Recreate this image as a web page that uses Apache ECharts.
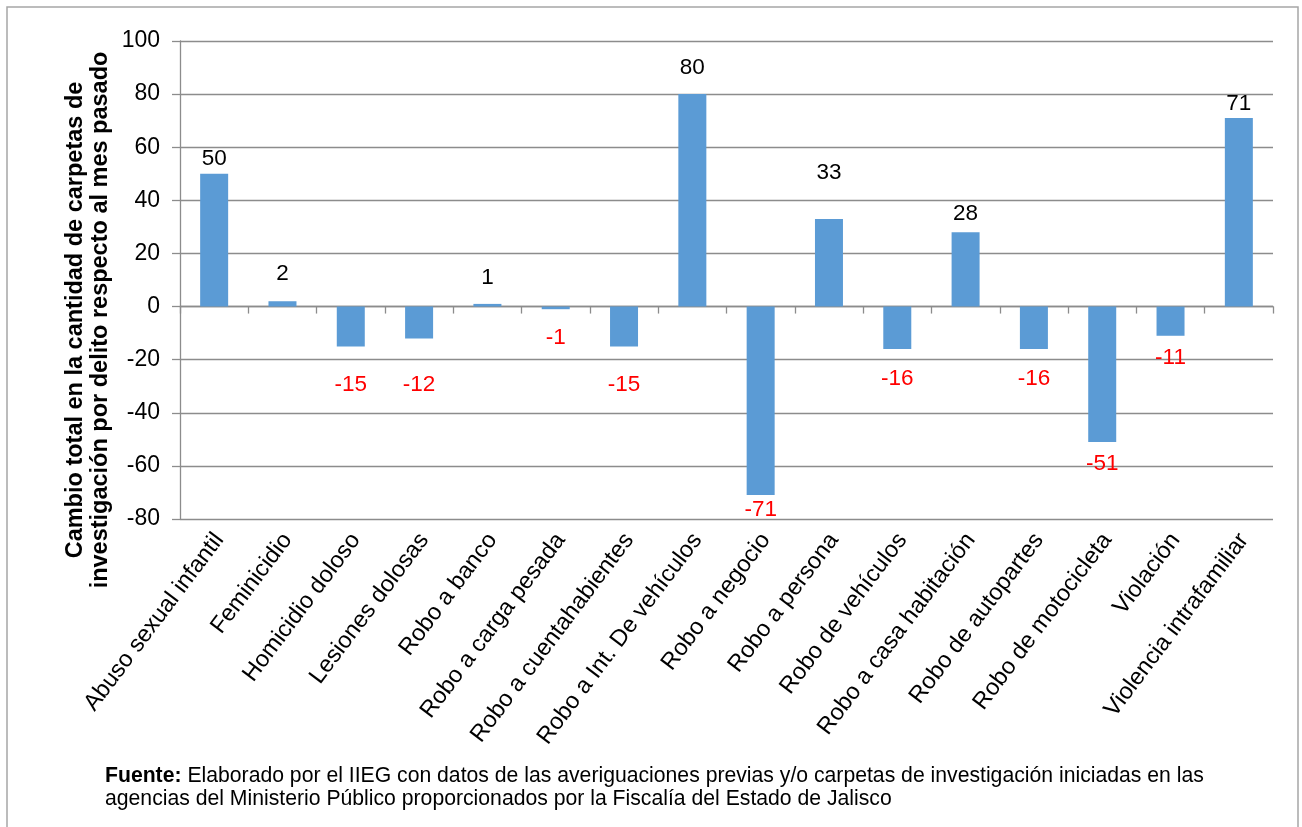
<!DOCTYPE html>
<html>
<head>
<meta charset="utf-8">
<script src="https://cdn.jsdelivr.net/npm/echarts@6/dist/echarts.min.js"></script>
<style>
html,body{margin:0;padding:0;background:#fff;}
#c{width:1302px;height:827px;}
</style>
</head>
<body>
<div id="c"></div>
<script>
const categories = [
  'Abuso sexual infantil', 'Feminicidio', 'Homicidio doloso', 'Lesiones dolosas',
  'Robo a banco', 'Robo a carga pesada', 'Robo a cuentahabientes', 'Robo a Int. De vehículos',
  'Robo a negocio', 'Robo a persona', 'Robo de vehículos', 'Robo a casa habitación',
  'Robo de autopartes', 'Robo de motocicleta', 'Violación', 'Violencia intrafamiliar'
];
const values = [50, 2, -15, -12, 1, -1, -15, 80, -71, 33, -16, 28, -16, -51, -11, 71];
const yMin = -80, yMax = 100, yStep = 20;
const yTitle = 'Cambio total en la cantidad de carpetas de\ninvestigación por delito respecto al mes pasado';
const sourceBold = 'Fuente:';
const sourceText1 = ' Elaborado por el IIEG con datos de las averiguaciones previas y/o carpetas de investigación iniciadas en las';
const sourceText2 = 'agencias del Ministerio Público proporcionados por la Fiscalía del Estado de Jalisco';

// label nudges (px) to mimic hand-placed labels of the original
const labelNudge = [0, -13, 24, 32, -12, 14, 24, -12, 0, -32, 15, -4, 15, 7, 8, 0];

const FONT = 'Liberation Sans, Arial, sans-serif';
const GRID = '#8c8c8c';

const barData = values.map((v, i) => ({
  value: v,
  label: {
    position: v >= 0 ? 'top' : 'bottom',
    color: v >= 0 ? '#000000' : '#ff0000',
    offset: [0, labelNudge[i]]
  }
}));

const chart = echarts.init(document.getElementById('c'));
chart.setOption({
  animation: false,
  backgroundColor: '#ffffff',
  grid: [
    { left: 180, right: 29, top: 41, bottom: 308, containLabel: false },
    { left: 185, right: 24, top: 41, bottom: 308, containLabel: false }
  ],
  xAxis: [
    {
      type: 'category',
      data: categories,
      gridIndex: 0,
      position: 'bottom',
      axisLine: { show: true, onZero: true, lineStyle: { color: GRID, width: 1.3 } },
      axisTick: { show: true, interval: 0, length: 7, inside: false, lineStyle: { color: GRID, width: 1.3 } },
      axisLabel: { show: false }
    },
    {
      type: 'category',
      data: categories,
      gridIndex: 1,
      position: 'bottom',
      axisLine: { show: false, onZero: false },
      axisTick: { show: false },
      axisLabel: {
        interval: 0, rotate: 53, margin: 17,
        fontFamily: FONT, fontSize: 23.5, color: '#000'
      }
    }
  ],
  yAxis: [
    {
      type: 'value',
      gridIndex: 0,
      min: yMin, max: yMax, interval: yStep,
      axisLine: { show: true, lineStyle: { color: GRID, width: 1.3 } },
      axisTick: { show: true, length: 8, lineStyle: { color: GRID, width: 1.3 } },
      splitLine: { show: true, lineStyle: { color: GRID, width: 1.3 } },
      axisLabel: { margin: 20, fontFamily: FONT, fontSize: 23, color: '#000' }
    },
    {
      type: 'value',
      gridIndex: 1,
      min: yMin, max: yMax, interval: yStep,
      show: false
    }
  ],
  series: [{
    type: 'bar',
    xAxisIndex: 0,
    yAxisIndex: 0,
    data: barData,
    barWidth: 28,
    itemStyle: { color: '#5b9bd5' },
    label: {
      show: true, distance: 3,
      fontFamily: FONT, fontSize: 22.5
    }
  }],
  graphic: [
    {
      type: 'rect', silent: true,
      shape: { x: 7, y: 7, width: 1291, height: 840 },
      style: { fill: 'none', stroke: '#a6a6a6', lineWidth: 1.5 }
    },
    {
      type: 'text', silent: true,
      x: 88, y: 320, rotation: Math.PI / 2,
      style: {
        text: yTitle,
        fontFamily: FONT, fontSize: 23.5, fontWeight: 'bold',
        fill: '#000', align: 'center', verticalAlign: 'middle', lineHeight: 25
      }
    },
    {
      type: 'text', silent: true,
      x: 105, y: 788,
      style: {
        text: '{b|' + sourceBold + '}' + sourceText1 + '\n' + sourceText2,
        fontFamily: FONT, fontSize: 21.2, fill: '#000',
        verticalAlign: 'middle', lineHeight: 23,
        rich: { b: { fontFamily: FONT, fontSize: 21.2, fontWeight: 'bold', fill: '#000' } }
      }
    }
  ]
});
</script>
</body>
</html>
